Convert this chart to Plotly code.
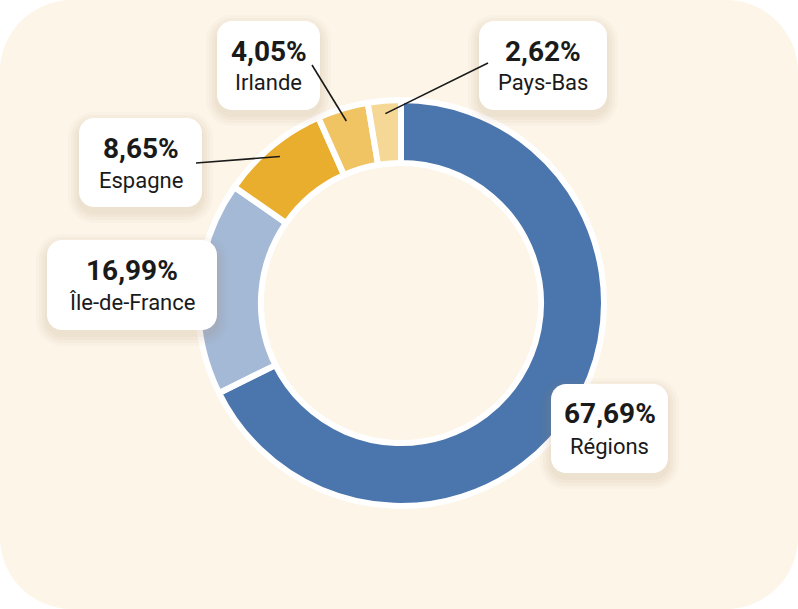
import math
import plotly.graph_objects as go

# ---------------- data ----------------
labels = ["Régions", "Île-de-France", "Espagne", "Irlande", "Pays-Bas"]
values = [67.69, 16.99, 8.65, 4.05, 2.62]
pct_text = ["67,69%", "16,99%", "8,65%", "4,05%", "2,62%"]
colors = ["#4A76AD", "#A3B9D6", "#E9AE2D", "#F0C463", "#F5D796"]

# ---------------- layout constants (pixels) ----------------
W, H = 798, 609
CX, CY, R_OUT = 401, 303, 203
HOLE = 0.69
BG = "#FCF5E8"
LINE_W = 6

# label boxes: (x0, y0, x1, y1) in pixels, per category
boxes = {
    "Régions": (551, 384, 668, 473),
    "Île-de-France": (47, 240, 217, 330),
    "Espagne": (79, 118, 202, 207),
    "Irlande": (217, 21, 320, 110),
    "Pays-Bas": (479, 21, 607, 110),
}
# leader line start points (pixels); end points derived from slice angles
leaders = {
    "Espagne": (196, 163),
    "Irlande": (312, 65),
    "Pays-Bas": (488, 63),
}


def px(x):
    return x / W


def py(y):
    return 1 - y / H


def rrect(x0, y0, x1, y1, r):
    k = 0.5523 * r
    pts = [
        f"M{px(x0 + r)},{py(y0)}",
        f"L{px(x1 - r)},{py(y0)}",
        f"C{px(x1 - r + k)},{py(y0)} {px(x1)},{py(y0 + r - k)} {px(x1)},{py(y0 + r)}",
        f"L{px(x1)},{py(y1 - r)}",
        f"C{px(x1)},{py(y1 - r + k)} {px(x1 - r + k)},{py(y1)} {px(x1 - r)},{py(y1)}",
        f"L{px(x0 + r)},{py(y1)}",
        f"C{px(x0 + r - k)},{py(y1)} {px(x0)},{py(y1 - r + k)} {px(x0)},{py(y1 - r)}",
        f"L{px(x0)},{py(y0 + r)}",
        f"C{px(x0)},{py(y0 + r - k)} {px(x0 + r - k)},{py(y0)} {px(x0 + r)},{py(y0)}",
        "Z",
    ]
    return " ".join(pts)


def corner(cxp, cyp, sx, sy, r):
    # white piece outside a rounded corner; (cxp, cyp) is the canvas corner
    k = 0.5523 * r
    ax, ay = cxp + sx * r, cyp
    bx, by = cxp, cyp + sy * r
    return (f"M{px(cxp)},{py(cyp)} L{px(ax)},{py(ay)} "
            f"C{px(ax - sx * k)},{py(ay)} {px(bx)},{py(by - sy * k)} {px(bx)},{py(by)} Z")


fig = go.Figure(
    go.Pie(
        labels=labels,
        values=values,
        hole=HOLE,
        sort=False,
        direction="clockwise",
        rotation=0,
        marker=dict(colors=colors, line=dict(color="white", width=LINE_W)),
        textinfo="none",
        hoverinfo="skip",
        domain=dict(
            x=[px(CX - R_OUT), px(CX + R_OUT)],
            y=[py(CY + R_OUT), py(CY - R_OUT)],
        ),
    )
)

shapes = []
# fill the donut hole with the panel colour
r_in = R_OUT * HOLE - LINE_W / 2 - 0.5
shapes.append(dict(type="circle", xref="paper", yref="paper",
                   x0=px(CX - r_in), x1=px(CX + r_in), y0=py(CY + r_in), y1=py(CY - r_in),
                   fillcolor=BG, line=dict(width=0), layer="above"))

# white rounded corners of the panel
RC = 72
for (cxp, cyp, sx, sy) in [(0, 0, 1, 1), (W, 0, -1, 1), (0, H, 1, -1), (W, H, -1, -1)]:
    shapes.append(dict(type="path", path=corner(cxp, cyp, sx, sy, RC), xref="paper", yref="paper",
                       fillcolor="white", line=dict(width=0), layer="above"))

annotations = []
for lab, pct in zip(labels, pct_text):
    x0, y0, x1, y1 = boxes[lab]
    # soft shadow
    for grow, op in [(11, 0.03), (8, 0.04), (5, 0.05), (2, 0.06)]:
        shapes.append(dict(type="path", path=rrect(x0 - grow, y0 - grow + 5, x1 + grow, y1 + grow + 5, 15 + grow),
                           xref="paper", yref="paper", fillcolor="rgb(170,140,90)", opacity=op,
                           line=dict(width=0), layer="above"))
    shapes.append(dict(type="path", path=rrect(x0, y0, x1, y1, 15), xref="paper", yref="paper",
                       fillcolor="white", line=dict(width=0), layer="above"))
    cx = (x0 + x1) / 2
    annotations.append(dict(text=pct, x=px(cx), y=py(y0 + 30), xref="paper", yref="paper",
                            showarrow=False, xanchor="center", yanchor="middle",
                            font=dict(family="Roboto", size=28, color="#1A1A1A", weight=700)))
    annotations.append(dict(text=lab, x=px(cx), y=py(y0 + 62), xref="paper", yref="paper",
                            showarrow=False, xanchor="center", yanchor="middle",
                            font=dict(family="Roboto", size=22, color="#1A1A1A")))

# leader lines to slice mid-angles
total = sum(values)
cum = 0.0
for lab, v in zip(labels, values):
    mid = (cum + v / 2) / total * 2 * math.pi
    cum += v
    if lab in leaders:
        sx, sy = leaders[lab]
        r = 190
        ex = CX + r * math.sin(mid)
        ey = CY - r * math.cos(mid)
        shapes.append(dict(type="line", x0=px(sx), y0=py(sy), x1=px(ex), y1=py(ey),
                           xref="paper", yref="paper", line=dict(color="#1A1A1A", width=1.6),
                           layer="above"))

fig.update_layout(
    width=W, height=H,
    margin=dict(l=0, r=0, t=0, b=0),
    paper_bgcolor=BG,
    plot_bgcolor=BG,
    showlegend=False,
    shapes=shapes,
    annotations=annotations,
)

fig.write_html("out.html")
